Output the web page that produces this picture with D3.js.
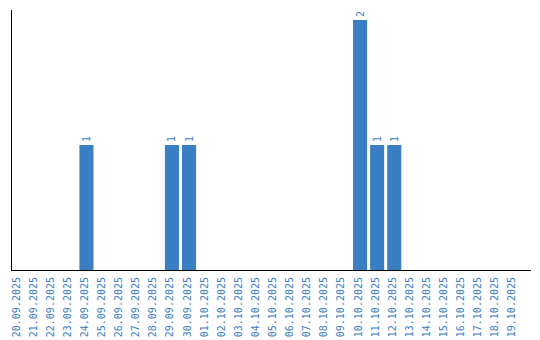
<!DOCTYPE html>
<html lang="en">
<head>
    <meta charset="UTF-8">
    <title>Daily counts</title>
    <style>
        body { margin: 0; padding: 0; background: #fff; }
        svg { display: block; font-family: "DejaVu Sans Mono", monospace; }
    </style>
</head>
<body>
    <div id="chart"></div>
    <script src="https://d3js.org/d3.v7.min.js"></script>
    <script>
        const dates = ["20.09.2025", "21.09.2025", "22.09.2025", "23.09.2025", "24.09.2025", "25.09.2025",
            "26.09.2025", "27.09.2025", "28.09.2025", "29.09.2025", "30.09.2025", "01.10.2025",
            "02.10.2025", "03.10.2025", "04.10.2025", "05.10.2025", "06.10.2025", "07.10.2025",
            "08.10.2025", "09.10.2025", "10.10.2025", "11.10.2025", "12.10.2025", "13.10.2025",
            "14.10.2025", "15.10.2025", "16.10.2025", "17.10.2025", "18.10.2025", "19.10.2025"];
        const counts = [0, 0, 0, 0, 1, 0, 0, 0, 0, 1, 1, 0, 0, 0, 0, 0, 0, 0, 0, 0, 2, 1, 1, 0, 0, 0, 0, 0, 0, 0];

        const width = 540, height = 340;
        const marginLeft = 11, axisY = 270, marginTop = 10;
        const blue = "#3a7ec3";

        const svg = d3.select("#chart").append("svg")
            .attr("width", width)
            .attr("height", height);

        const x = d3.scaleBand()
            .domain(dates)
            .range([marginLeft, marginLeft + 17 * dates.length])
            .paddingInner(3 / 17)
            .paddingOuter(0)
            .align(0);

        const y = d3.scaleLinear()
            .domain([0, 2])
            .range([axisY, 20]);

        const data = dates.map((d, i) => ({ date: d, value: counts[i] }));

        svg.selectAll(".bar")
            .data(data.filter(d => d.value > 0))
            .enter().append("rect")
            .attr("class", "bar")
            .attr("x", d => x(d.date))
            .attr("y", d => y(d.value))
            .attr("width", x.bandwidth())
            .attr("height", d => axisY - y(d.value))
            .attr("fill", blue);

        // value labels above bars
        svg.selectAll(".val")
            .data(data.filter(d => d.value > 0))
            .enter().append("text")
            .attr("class", "val")
            .attr("transform", d => "translate(" + (x(d.date) + x.bandwidth() / 2 + 3.5) + "," + (y(d.value) - 3) + ") rotate(-90)")
            .attr("fill", blue)
            .style("font-size", "10px")
            .text(d => d.value);

        // x axis
        const xAxis = svg.append("g")
            .attr("transform", "translate(0," + axisY + ")")
            .call(d3.axisBottom(x).tickSize(0).tickPadding(0));
        xAxis.select(".domain").remove();
        xAxis.selectAll("text")
            .attr("fill", blue)
            .style("font-size", "10px")
            .style("font-family", "'DejaVu Sans Mono', monospace")
            .attr("text-anchor", "end")
            .attr("transform", "translate(-2,7) rotate(-90)")
            .attr("dy", "0.35em")
            .attr("y", 0)
            .attr("x", 0);

        svg.append("line")
            .attr("x1", marginLeft).attr("x2", 531)
            .attr("y1", axisY + 0.5).attr("y2", axisY + 0.5)
            .attr("stroke", "#000");
        svg.append("line")
            .attr("x1", marginLeft + 0.5).attr("x2", marginLeft + 0.5)
            .attr("y1", marginTop).attr("y2", axisY)
            .attr("stroke", "#000");
    </script>
</body>
</html>
